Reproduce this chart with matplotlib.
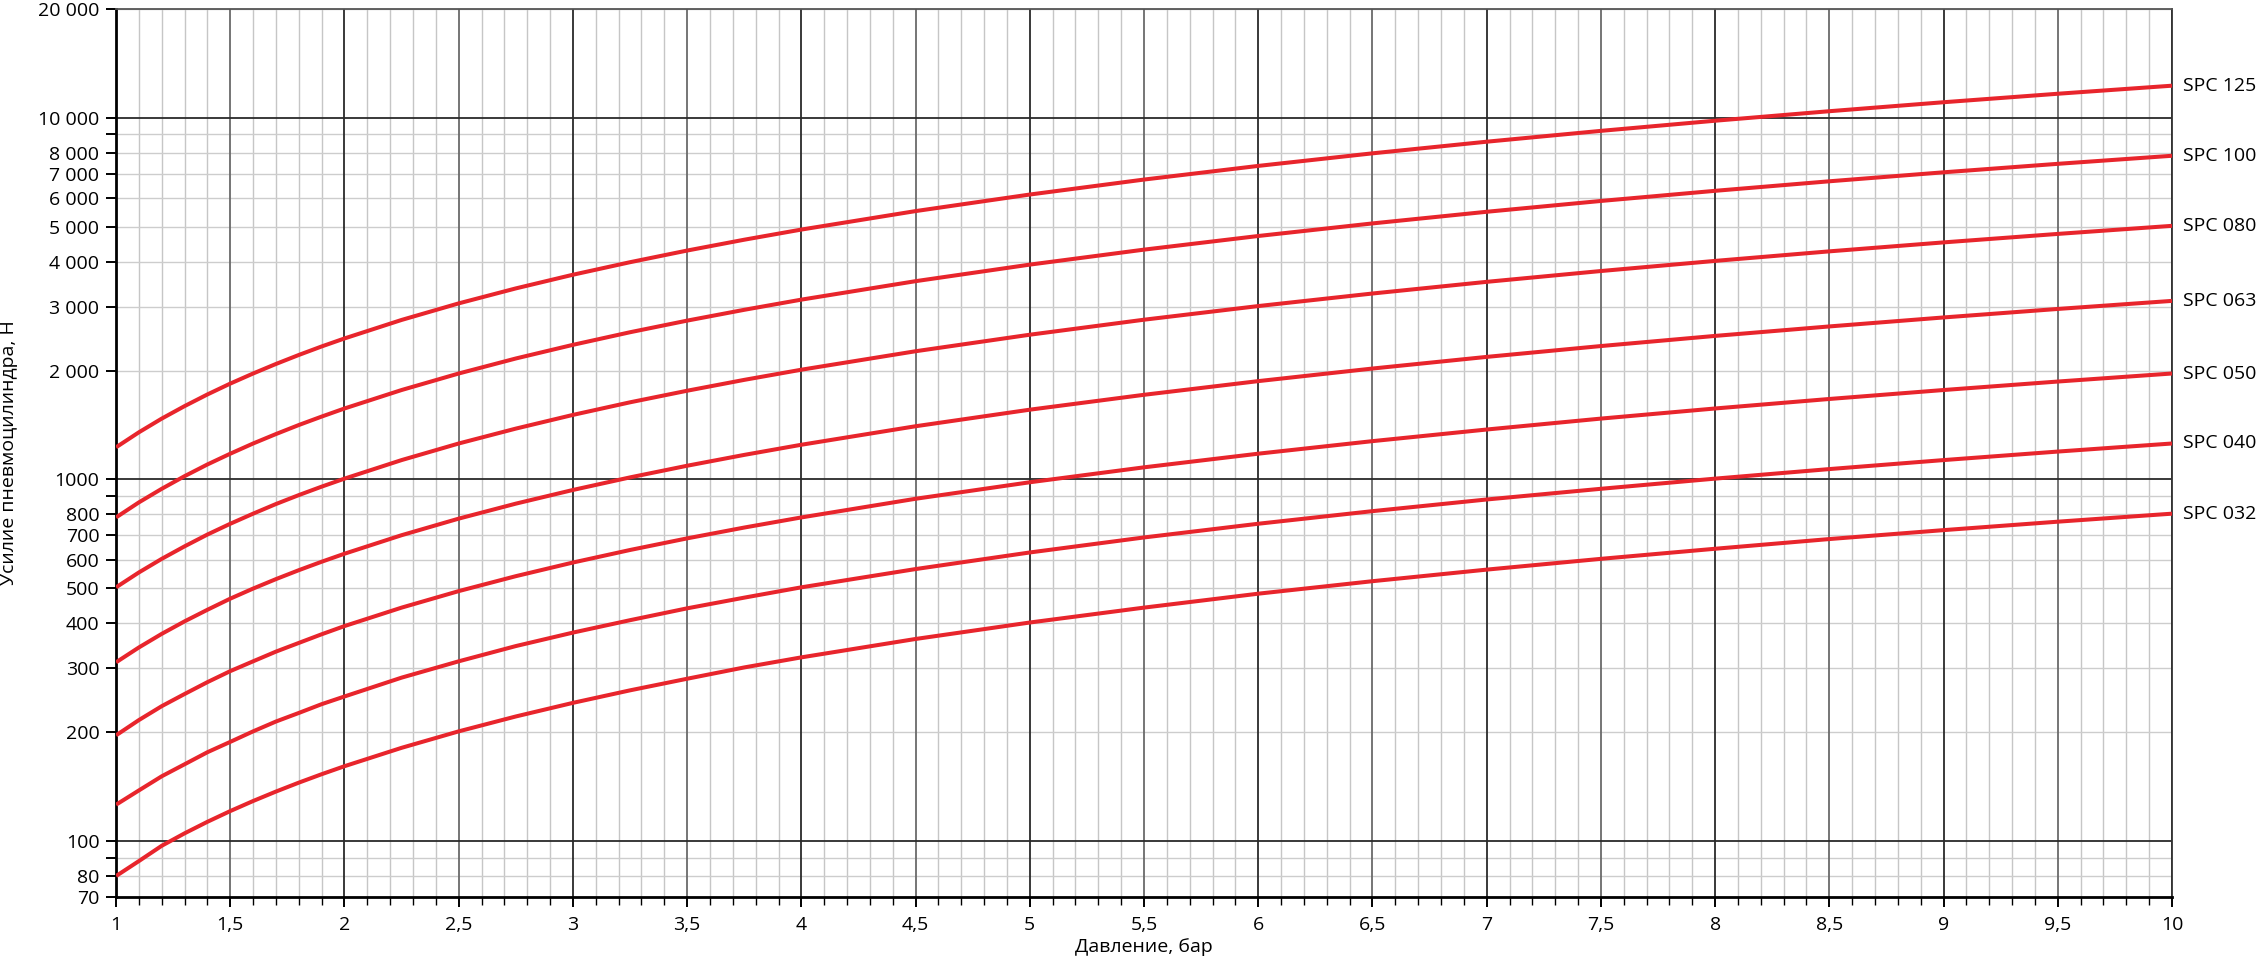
import matplotlib
matplotlib.use('Agg')
import matplotlib.pyplot as plt
from matplotlib.ticker import FixedLocator, NullFormatter

plt.rcParams['font.family'] = ['Open Sans', 'DejaVu Sans']

# pressure, bar
pressure = [1, 1.1, 1.2, 1.3, 1.4, 1.5, 1.6, 1.7, 1.8, 1.9, 2, 2.25, 2.5, 2.75,
            3, 3.25, 3.5, 3.75, 4, 4.5, 5, 5.5, 6, 6.5, 7, 7.5, 8, 8.5, 9, 9.5, 10]

# force, N
spc032 = [80, 88, 97, 105, 113, 121, 129, 137, 145, 153, 161, 181, 201, 221,
          241, 261, 281, 302, 322, 362, 402, 442, 483, 523, 563, 603, 643, 684,
          724, 764, 804]
spc040 = [126, 138, 151, 163, 176, 188, 201, 214, 226, 239, 251, 283, 314, 346,
          377, 408, 440, 471, 503, 565, 628, 691, 754, 817, 880, 942, 1005,
          1068, 1131, 1194, 1257]
spc050 = [196, 216, 236, 255, 275, 295, 314, 334, 353, 373, 393, 442, 491, 540,
          589, 638, 687, 736, 785, 884, 982, 1080, 1178, 1276, 1374, 1473, 1571,
          1669, 1767, 1865, 1963]
spc063 = [312, 343, 374, 405, 436, 468, 499, 530, 561, 592, 623, 701, 779, 857,
          935, 1013, 1091, 1169, 1247, 1403, 1559, 1714, 1870, 2026, 2182, 2338,
          2494, 2649, 2805, 2961, 3117]
spc080 = [503, 553, 603, 653, 704, 754, 804, 855, 905, 955, 1005, 1131, 1257,
          1382, 1508, 1634, 1759, 1885, 2011, 2262, 2513, 2765, 3016, 3267, 3519,
          3770, 4021, 4273, 4524, 4775, 5027]
spc100 = [785, 864, 942, 1021, 1100, 1178, 1257, 1335, 1414, 1492, 1571, 1767,
          1963, 2160, 2356, 2553, 2749, 2945, 3142, 3534, 3927, 4320, 4712, 5105,
          5498, 5890, 6283, 6676, 7069, 7461, 7854]
spc125 = [1227, 1350, 1473, 1595, 1718, 1841, 1963, 2086, 2209, 2332, 2454, 2761,
          3068, 3375, 3682, 3988, 4295, 4602, 4909, 5522, 6136, 6750, 7363, 7977,
          8590, 9204, 9818, 10431, 11045, 11658, 12272]
series = [('SPC 032', spc032), ('SPC 040', spc040), ('SPC 050', spc050),
          ('SPC 063', spc063), ('SPC 080', spc080), ('SPC 100', spc100),
          ('SPC 125', spc125)]

y_ticks = [70, 80, 90, 100, 200, 300, 400, 500, 600, 700, 800, 900, 1000,
           2000, 3000, 4000, 5000, 6000, 7000, 8000, 9000, 10000, 20000]
y_labels = ['70', '80', '', '100', '200', '300', '400', '500', '600', '700',
            '800', '', '1000', '2 000', '3 000', '4 000', '5 000', '6 000',
            '7 000', '8 000', '', '10 000', '20 000']
x_major = [1, 1.5, 2, 2.5, 3, 3.5, 4, 4.5, 5, 5.5, 6, 6.5, 7, 7.5, 8, 8.5, 9, 9.5, 10]
x_labels = ['1', '1,5', '2', '2,5', '3', '3,5', '4', '4,5', '5', '5,5', '6',
            '6,5', '7', '7,5', '8', '8,5', '9', '9,5', '10']

fig = plt.figure(figsize=(22.58, 9.57), dpi=100)
ax = fig.add_axes([0.0514, 0.0627, 0.9105, 0.9279])
ax.set_yscale('log')
ax.set_xlim(1, 10)
ax.set_ylim(70, 20000)

# grid
for i in range(10, 101):
    x = i / 10
    if i % 10 == 0:
        ax.axvline(x, color='#2a2a2a', lw=1.3, zorder=1)
    elif i % 5 == 0:
        ax.axvline(x, color='#6a6a6a', lw=1.3, zorder=1)
    else:
        ax.axvline(x, color='#c6c6c6', lw=1.0, zorder=0.5)
for y in y_ticks:
    if y in (100, 1000, 10000):
        ax.axhline(y, color='#2a2a2a', lw=1.3, zorder=1)
    else:
        ax.axhline(y, color='#cdcdcd', lw=1.0, zorder=0.5)

for name, vals in series:
    ax.plot(pressure, vals, color='#e8252c', lw=2.9, zorder=3,
            solid_capstyle='butt')
    ax.annotate(name, xy=(10, vals[-1]), xytext=(8, 0),
                textcoords='offset points', va='center', ha='left',
                fontsize=14, annotation_clip=False)

ax.yaxis.set_major_locator(FixedLocator(y_ticks))
ax.yaxis.set_minor_locator(FixedLocator([]))
ax.yaxis.set_minor_formatter(NullFormatter())
ax.set_yticklabels(y_labels)
ax.xaxis.set_major_locator(FixedLocator(x_major))
ax.xaxis.set_minor_locator(FixedLocator([i / 10 for i in range(10, 101)]))
ax.set_xticklabels(x_labels)

ax.tick_params(axis='both', which='major', direction='out', length=7,
               width=1.4, labelsize=14, color='black')
ax.tick_params(axis='x', which='minor', direction='out', length=6, width=1.0)
ax.tick_params(axis='y', pad=5)
ax.tick_params(axis='x', pad=7)

ax.spines['left'].set_linewidth(2)
ax.spines['bottom'].set_linewidth(2)
ax.spines['top'].set_color('#555555')
ax.spines['top'].set_linewidth(1.3)
ax.spines['right'].set_color('#333333')
ax.spines['right'].set_linewidth(1.3)

ax.set_xlabel('Давление, бар', fontsize=14)
ax.xaxis.set_label_coords(0.5, -0.046)
ax.set_ylabel('Усилие пневмоцилиндра, Н', fontsize=14)
ax.yaxis.set_label_coords(-0.0477, 0.5)

fig.savefig('out.png', dpi=100)
